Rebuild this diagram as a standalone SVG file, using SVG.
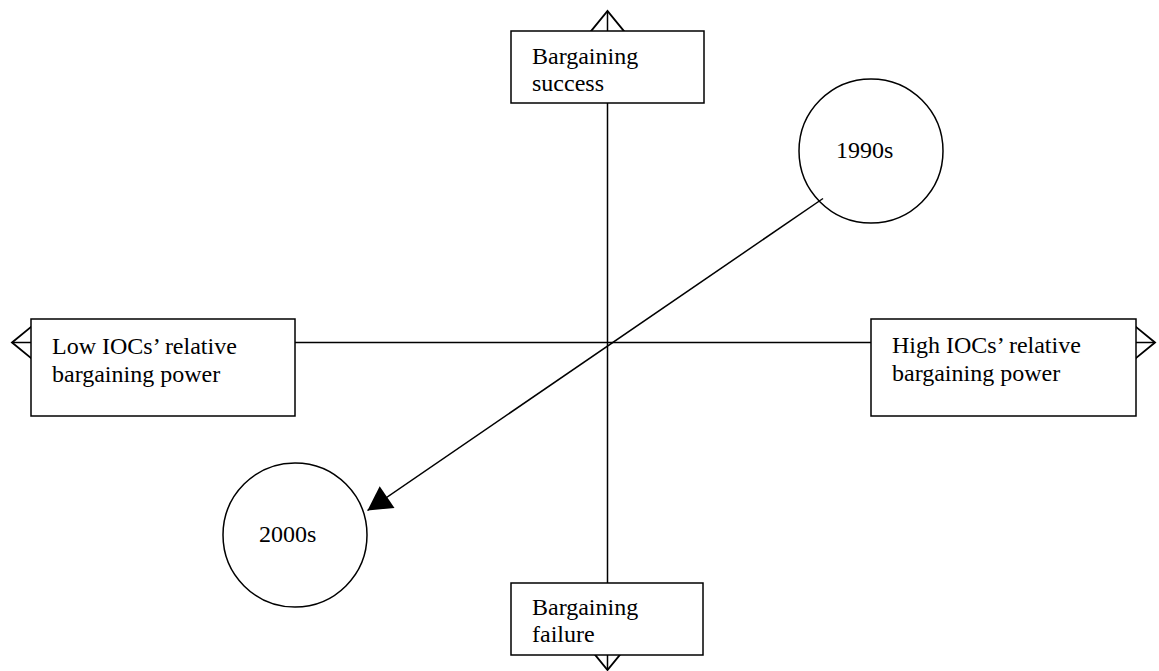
<svg xmlns="http://www.w3.org/2000/svg" width="1159" height="671" viewBox="0 0 1159 671">
  <style>
    .axis { stroke: #000; stroke-width: 1.5; fill: none; }
    .box { fill: #fff; stroke: #000; stroke-width: 1.5; }
    .era { fill: #fff; stroke: #000; stroke-width: 1.5; }
    .lbl { font-family: "Liberation Serif", "Times New Roman", serif; font-size: 24px; fill: #000; }
    .shift { stroke: #000; stroke-width: 1.5; fill: none; }
  </style>
  <defs>
    <!-- open V head for the axes -->
    <marker id="open" markerUnits="userSpaceOnUse" markerWidth="40" markerHeight="40" viewBox="-22 -16 24 32" refX="0" refY="0" orient="auto-start-reverse" overflow="visible">
      <path d="M -16.5,-13.5 L 0,0 L -16.5,13.5" fill="none" stroke="#000" stroke-width="1.5"/>
    </marker>
    <!-- solid head for the shift arrow -->
    <marker id="solid" markerUnits="userSpaceOnUse" markerWidth="30" markerHeight="30" viewBox="-20 -12 22 24" refX="0" refY="0" orient="auto" overflow="visible">
      <path d="M 0,0 L -19,-10.5 L -19,10.5 Z" fill="#000"/>
    </marker>
  </defs>

  <g id="connectors">
    <line class="axis" x1="607.5" y1="670" x2="607.5" y2="11" marker-start="url(#open)" marker-end="url(#open)"/>
    <line class="axis" x1="12" y1="342.5" x2="1155" y2="342.5" marker-start="url(#open)" marker-end="url(#open)"/>
  </g>

  <g id="node-success">
    <rect class="box" x="511" y="31" width="193" height="72"/>
    <text class="lbl" x="532" y="64">Bargaining</text>
    <text class="lbl" x="532" y="91">success</text>
  </g>

  <g id="node-failure">
    <rect class="box" x="511" y="583" width="192" height="72"/>
    <text class="lbl" x="532" y="615">Bargaining</text>
    <text class="lbl" x="532" y="642">failure</text>
  </g>

  <g id="node-low">
    <rect class="box" x="31" y="319" width="264" height="97"/>
    <text class="lbl" x="52" y="354">Low IOCs’ relative</text>
    <text class="lbl" x="52" y="382">bargaining power</text>
  </g>

  <g id="node-high">
    <rect class="box" x="871" y="319" width="265" height="97"/>
    <text class="lbl" x="892" y="353">High IOCs’ relative</text>
    <text class="lbl" x="892" y="381">bargaining power</text>
  </g>

  <g id="node-1990s">
    <circle class="era" cx="871" cy="151" r="72"/>
    <text class="lbl" x="836" y="158">1990s</text>
  </g>

  <g id="node-2000s">
    <circle class="era" cx="295" cy="535" r="72"/>
    <text class="lbl" x="259" y="542">2000s</text>
  </g>

  <g id="shift">
    <line class="shift" x1="823" y1="198.5" x2="367.5" y2="510.5" marker-end="url(#solid)"/>
  </g>
</svg>
